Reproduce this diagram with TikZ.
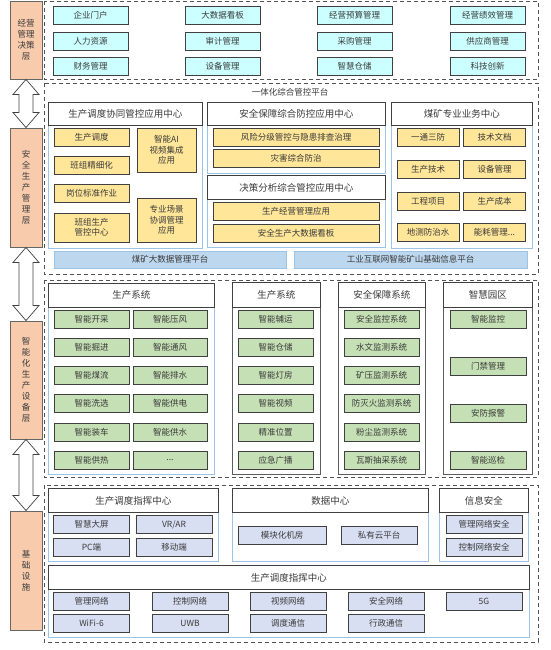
\documentclass[tikz,border=0pt]{standalone}
\usepackage{fontspec}
\setmainfont{Noto Sans CJK SC}
\usepackage{tikz}
\usetikzlibrary{positioning,calc}
\newcommand{\trail}{...}
\definecolor{cLayer}{HTML}{F8CBAD}
\definecolor{cTop}{HTML}{CCFFFF}
\definecolor{cApp}{HTML}{FFE699}
\definecolor{cDev}{HTML}{C5E0B4}
\definecolor{cNet}{HTML}{D9DFF3}
\definecolor{cBar}{HTML}{BDD7EE}
\definecolor{cEdge}{HTML}{9DC3E6}
\definecolor{cLine}{HTML}{404040}
\definecolor{cTxt}{HTML}{3A3A3A}
\tikzset{
  base/.style={draw=cLine,line width=0.9pt,align=center,inner sep=1pt,text=cTxt,font=\fontsize{8.5}{10.5}\selectfont,minimum height=18},
  topbox/.style={base,fill=cTop,minimum width=75}, appbox/.style={base,fill=cApp},
  devbox/.style={base,fill=cDev,minimum width=75}, netbox/.style={base,fill=cNet,minimum width=76},
  bar/.style={base,fill=cBar,draw=cEdge,minimum height=17},
  layer/.style={draw=cLine!80,line width=0.9pt,fill=cLayer,minimum width=32,align=center,text=cTxt,font=\fontsize{8.5}{11}\selectfont},
  phead/.style={draw=cLine,line width=0.8pt,fill=white,minimum height=23,font=\fontsize{9.5}{11}\selectfont,text=cTxt,anchor=north west,inner sep=0pt},
  pbody/.style={draw=cEdge,line width=1pt,fill=white,anchor=north west,inner sep=0pt},
  gbody/.style={pbody,draw=cLine!85},
  sect/.style={draw=cLine!90,dash pattern=on 4pt off 3pt,line width=0.8pt},
  blockarr/.style={draw=cLine,line width=0.7pt,fill=white,line join=miter}}

\begin{document}
\begin{tikzpicture}[x=1pt,y=-1pt]
\useasboundingbox (0,0) rectangle (550,650);
% layers on the left
\node[layer,minimum height=78] (lay1) at (26,40) {经营\\管理\\决策\\层};
\node[layer,minimum height=119] (lay2) at (26,187.5) {安\\全\\生\\产\\管\\理\\层};
\node[layer,minimum height=118] (lay3) at (26,380) {智\\能\\化\\生\\产\\设\\备\\层};
\node[layer,minimum height=119] (lay4) at (26,570.5) {基\\础\\设\\施};
\foreach \a/\b in {lay1/lay2,lay2/lay3,lay3/lay4}{
  \draw[blockarr] let \p1=(\a.south), \p2=(\b.north) in
    (\p1) -- (\x1+13pt,\y1-15pt) -- (\x1+7pt,\y1-15pt) -- (\x1+7pt,\y2+15pt)
    -- (\x1+13pt,\y2+15pt) -- (\p2) -- (\x1-13pt,\y2+15pt) -- (\x1-7pt,\y2+15pt)
    -- (\x1-7pt,\y1-15pt) -- (\x1-13pt,\y1-15pt) -- cycle;
}
% dashed sections
\draw[sect] (44,1) rectangle (538,79);
\draw[sect] (44,83) rectangle (538,274);
\draw[sect] (44,280) rectangle (538,477);
\draw[sect] (44,485) rectangle (538,642);

% management
\foreach \y/\ta/\tb/\tc/\td [count=\r] in {15.5/企业门户/大数据看板/经营预算管理/经营绩效管理,
    41/人力资源/审计管理/采购管理/供应商管理, 66/财务管理/设备管理/智慧仓储/科技创新}{
  \node[topbox] (t\r-1) at (90.5,\y) {\ta};
  \node[topbox] (t\r-2) at (222.5,\y) {\tb};
  \node[topbox] (t\r-3) at (354.5,\y) {\tc};
  \node[topbox] (t\r-4) at (487.5,\y) {\td};
}

% platform
\node[font=\fontsize{8.5}{10}\selectfont,text=cTxt] (plat) at (290,92) {一体化综合管控平台};
\node[pbody,minimum width=154,minimum height=146] (pA) at (48,102) {};
\node[phead,minimum width=154] (pAh) at (48,102) {生产调度协同管控应用中心};
\node[appbox,minimum width=75] (a1) at (91.5,137) {生产调度};
\node[appbox,minimum width=75] (a2) at (91.5,165) {班组精细化};
\node[appbox,minimum width=75] (a3) at (91.5,193) {岗位标准作业};
\node[appbox,minimum width=75,minimum height=29] (a4) at (91.5,227.5) {班组生产\\管控中心};
\node[appbox,minimum width=59,minimum height=44] (a5) at (166.5,150) {智能AI\\视频集成\\应用};
\node[appbox,minimum width=59,minimum height=44] (a6) at (166.5,220) {专业场景\\协调管理\\应用};

\node[pbody,minimum width=178,minimum height=71] (pB) at (207,102) {};
\node[phead,minimum width=178] (pBh) at (207,102) {安全保障综合防控应用中心};
\node[appbox,minimum width=166] (b1) at (296,137) {风险分级管控与隐患排查治理};
\node[appbox,minimum width=166] (b2) at (296,158) {灾害综合防治};
\node[pbody,minimum width=178,minimum height=72] (pC) at (207,175) {};
\node[phead,minimum width=178,minimum height=24] (pCh) at (207,175) {决策分析综合管控应用中心};
\node[appbox,minimum width=166] (c1) at (296,211.5) {生产经营管理应用};
\node[appbox,minimum width=166] (c2) at (296,233) {安全生产大数据看板};

\node[pbody,minimum width=141,minimum height=146] (pD) at (391,102) {};
\node[phead,minimum width=141] (pDh) at (391,102) {煤矿专业业务中心};
\foreach \y/\ta/\tb [count=\r] in {137/一通三防/技术文档, 169/生产技术/设备管理,
    201/工程项目/生产成本, 232.5/地测防治水/能耗管理\trail}{
  \node[appbox,minimum width=62] (d\r-1) at (428,\y) {\ta};
  \node[appbox,minimum width=62] (d\r-2) at (494.5,\y) {\tb};
}
\node[bar,minimum width=232] (bar1) at (170,259.5) {煤矿大数据管理平台};
\node[bar,minimum width=233] (bar2) at (410.5,259.5) {工业互联网智能矿山基础信息平台};

% devices
\node[pbody,minimum width=166,minimum height=191] (pE) at (48,283) {};
\node[phead,minimum width=166,minimum height=24] (pEh) at (48,283) {生产系统};
\foreach \y/\ta/\tb [count=\r] in {319/智能开采/智能压风, 347/智能掘进/智能通风, 375/智能煤流/智能排水,
    403/智能洗选/智能供电, 432/智能装车/智能供水, 460/智能供热/\trail}{
  \node[devbox] (e\r-1) at (91.5,\y) {\ta};
  \node[devbox,minimum width=74] (e\r-2) at (170,\y) {\tb};
}
\node[gbody,minimum width=88,minimum height=192] (pF) at (232,282) {};
\node[phead,minimum width=88,minimum height=25] (pFh) at (232,282) {生产系统};
\node[gbody,minimum width=87,minimum height=192] (pG) at (338,282) {};
\node[phead,minimum width=87,minimum height=25] (pGh) at (338,282) {安全保障系统};
\foreach \y/\ta/\tb [count=\r] in {319/智能辅运/安全监控系统, 347/智能仓储/水文监测系统, 375/智能灯房/矿压监测系统,
    403/智能视频/防灭火监测系统, 432/精准位置/粉尘监测系统, 460/应急广播/瓦斯抽采系统}{
  \node[devbox] (f\r) at (275.5,\y) {\ta};
  \node[devbox] (g\r) at (381.5,\y) {\tb};
}
\node[gbody,minimum width=89,minimum height=192] (pH) at (443,282) {};
\node[phead,minimum width=89,minimum height=25] (pHh) at (443,282) {智慧园区};
\foreach \y/\t [count=\r] in {319/智能监控, 366/门禁管理, 413/安防报警, 460/智能巡检}
  \node[devbox,minimum width=76] (h\r) at (488,\y) {\t};

% infrastructure
\node[pbody,minimum width=170,minimum height=73] (pI) at (48,488) {};
\node[phead,minimum width=170,minimum height=24] (pIh) at (48,488) {生产调度指挥中心};
\node[netbox] (i1) at (91.5,524.5) {智慧大屏};
\node[netbox] (i2) at (174,524.5) {VR/AR};
\node[netbox] (i3) at (91.5,547) {PC端};
\node[netbox] (i4) at (174,547) {移动端};
\node[pbody,minimum width=196,minimum height=73] (pJ) at (232,488) {};
\node[phead,minimum width=196,minimum height=24] (pJh) at (232,488) {数据中心};
\node[netbox,minimum width=88] (j1) at (282,535.5) {模块化机房};
\node[netbox] (j2) at (379,535.5) {私有云平台};
\node[pbody,minimum width=89,minimum height=73] (pK) at (439,488) {};
\node[phead,minimum width=89,minimum height=24] (pKh) at (439,488) {信息安全};
\node[netbox] (k1) at (484,524.5) {管理网络安全};
\node[netbox] (k2) at (484,547) {控制网络安全};
\node[pbody,minimum width=481,minimum height=72] (pL) at (48,565) {};
\node[phead,minimum width=481,minimum height=24] (pLh) at (48,565) {生产调度指挥中心};
\foreach \x/\ta/\tb [count=\c] in {91.5/管理网络/WiFi-6, 190/控制网络/UWB, 288/视频网络/调度通信, 386/安全网络/行政通信}{
  \node[netbox] (l1-\c) at (\x,601) {\ta};
  \node[netbox] (l2-\c) at (\x,623) {\tb};
}
\node[netbox] (l1-5) at (484,601) {5G};
\end{tikzpicture}
\end{document}
